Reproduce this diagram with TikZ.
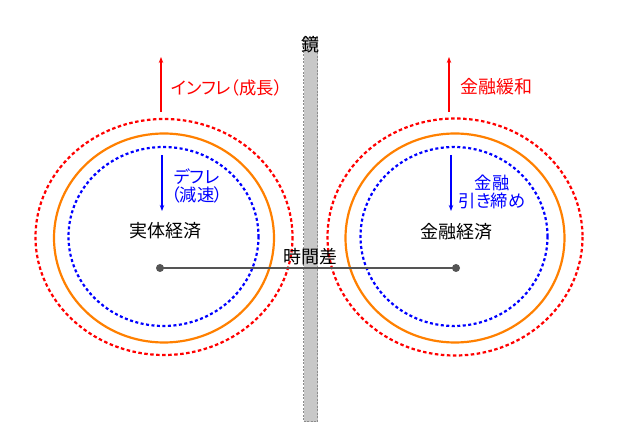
\documentclass[tikz,border=0pt]{standalone}
\usepackage{fontspec}
\newfontfamily\jp[RawFeature=+palt]{Noto Sans CJK JP}
\usetikzlibrary{arrows.meta}
\definecolor{myred}{HTML}{FF0000}
\definecolor{myorange}{HTML}{FF8000}
\definecolor{myblue}{HTML}{0000FF}
\definecolor{mygray}{HTML}{555555}
\definecolor{barfill}{HTML}{C8C8C8}
\definecolor{barline}{HTML}{8C8C8C}
\begin{document}
\begin{tikzpicture}[x=1pt,y=-1pt,
  redring/.style={draw=myred,line width=2.2pt,dash pattern=on 3.5pt off 2.5pt},
  orangering/.style={draw=myorange,line width=2.2pt},
  bluering/.style={draw=myblue,line width=2.2pt,dash pattern=on 3pt off 2.5pt},
  txt/.style={inner sep=0pt,font=\jp\fontsize{18}{18}\selectfont},
  smalltxt/.style={inner sep=0pt,font=\jp\fontsize{17.3}{17.3}\selectfont},
  redarrow/.style={draw=myred,line width=2pt,-{Stealth[length=6pt,width=4.5pt]}},
  bluearrow/.style={draw=myblue,line width=2pt,-{Stealth[length=6pt,width=4.5pt]}},
  dotnode/.style={circle,fill=mygray,inner sep=0pt,minimum size=8pt}]
\useasboundingbox (0,0) rectangle (630,438);
\fill[white] (0,0) rectangle (630,438);
% mirror bar
\draw[fill=barfill,draw=barline,line width=1pt,dash pattern=on 2pt off 1.5pt] (303.5,37) rectangle (317.5,422);
\node[txt] (mirror) at (310.5,45) {鏡};
% left rings
\draw[redring] (164,237) ellipse [x radius=128.5,y radius=118];
\draw[orangering] (164,238) ellipse [x radius=110,y radius=104.5];
\draw[bluering] (163.5,236.5) ellipse [x radius=95,y radius=89.5];
% right rings
\draw[redring] (455,237) ellipse [x radius=127.5,y radius=118.5];
\draw[orangering] (455,238) ellipse [x radius=109.5,y radius=104.5];
\draw[bluering] (454,236.5) ellipse [x radius=93.5,y radius=89.5];
% arrows
\coordinate (la0) at (161,112); \coordinate (la1) at (161,57);
\coordinate (ra0) at (449,112); \coordinate (ra1) at (449,57);
\coordinate (lb0) at (162,155); \coordinate (lb1) at (162,211);
\coordinate (rb0) at (451,155); \coordinate (rb1) at (451,211);
\draw[redarrow] (la0) -- (la1);
\draw[redarrow] (ra0) -- (ra1);
\draw[bluearrow] (lb0) -- (lb1);
\draw[bluearrow] (rb0) -- (rb1);
% labels
\node[smalltxt,text=myred,anchor=west] (infl) at (171,88) {インフレ（成長）};
\node[txt,text=myred,anchor=west] (easing) at (460,87) {金融緩和};
\node[smalltxt,text=myblue,align=center] (defl) at (197,186) {デフレ\\[0pt]（減速）};
\node[smalltxt,text=myblue,align=center] (tight) at (492,192) {金融\\[1pt]引き締め};
\node[txt] (real) at (165,231) {実体経済};
\node[txt] (fin) at (456,232) {金融経済};
% time lag line
\node[dotnode] (ld) at (160,268) {};
\node[dotnode] (rd) at (456,268) {};
\draw[mygray,line width=2pt] (ld.center) -- (rd.center);
\node[txt] (lag) at (310,257) {時間差};
\end{tikzpicture}
\end{document}
